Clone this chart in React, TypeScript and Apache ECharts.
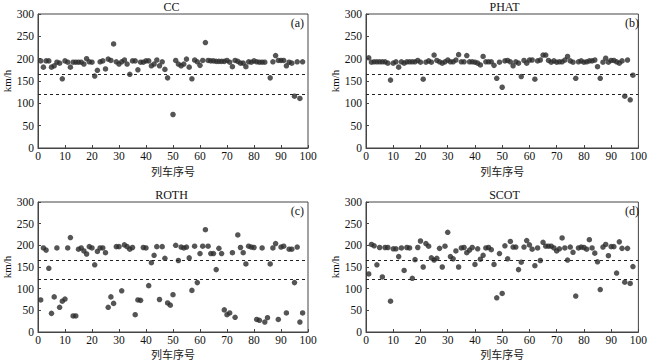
import React, { useEffect, useRef } from "react";
import * as echarts from "echarts";

const ccSpeed = [195,181,195,195,181,184,192,190,155,195,192,181,192,192,192,192,188,200,193,192,161,174,193,195,177,199,196,233,193,188,193,197,188,165,195,195,175,192,192,195,195,184,188,197,184,193,176,157,null,75,196,188,184,188,199,181,155,197,193,185,196,236,196,195,195,194,194,194,194,196,192,182,196,194,190,190,182,193,192,195,193,192,192,192,null,157,193,207,196,196,196,184,192,190,116,193,111,193];
const phatSpeed = [202,192,193,193,193,193,193,190,152,190,193,181,193,190,193,193,193,193,196,192,154,192,195,192,208,196,193,190,193,197,193,193,197,209,193,193,207,193,193,192,190,186,205,193,193,193,185,156,192,136,195,196,193,184,193,190,160,196,190,197,197,154,195,197,208,208,196,192,195,192,193,193,197,205,195,192,156,193,195,192,193,195,195,197,182,156,192,201,192,196,196,193,190,195,116,197,108,163];
const rothSpeed = [74,194,189,147,43,81,194,57,71,76,194,218,37,37,191,194,187,180,197,194,155,186,194,194,183,57,81,66,197,197,95,201,197,191,195,40,74,73,195,194,107,160,177,197,75,197,170,67,62,86,200,165,196,194,196,171,96,198,114,181,198,236,198,181,181,144,193,181,51,40,44,183,34,224,195,183,157,198,196,195,29,27,194,23,33,157,194,204,29,196,198,44,191,191,114,196,23,44];
const scotSpeed = [134,202,199,155,195,127,195,195,71,192,192,174,194,142,195,194,124,167,195,210,150,204,198,171,166,170,193,150,198,230,174,169,187,150,194,195,183,189,195,156,192,168,177,194,195,190,156,79,181,89,199,169,209,196,196,144,161,196,211,201,191,153,194,165,207,198,198,198,194,187,192,217,194,166,196,184,83,194,196,195,191,213,194,182,162,98,196,202,176,197,197,136,208,193,115,193,112,151];

const panelTitles = ["CC", "PHAT", "ROTH", "SCOT"];
const panelTags = ["(a)", "(b)", "(c)", "(d)"];
const thresholds = [165, 121];
const xTicks = { min: 0, max: 100, interval: 10 };
const yTicks = { min: 0, max: 300, interval: 50 };
const xName = "列车序号";
const yName = "km/h";

const allSeries = [ccSpeed, phatSpeed, rothSpeed, scotSpeed];

const grids = [
  { left: 35, top: 14, width: 273, height: 134 },
  { left: 366, top: 14, width: 277, height: 134 },
  { left: 35, top: 202, width: 273, height: 130 },
  { left: 366, top: 202, width: 277, height: 130 },
];
const xNameGaps = [17, 17, 16, 16];

const FONT = "'Liberation Serif', 'Times New Roman', serif";
const CJK = "'Noto Sans CJK SC', sans-serif";
const INK = "#444";

export default function App() {
  const ref = useRef<HTMLDivElement>(null);
  useEffect(() => {
    document.body.style.margin = "0";
    if (!ref.current) return;
    const chart = echarts.init(ref.current, undefined, { renderer: "svg" });
    const option: any = {
      animation: false,
      backgroundColor: "#fff",
      grid: grids.map((g) => ({ ...g, show: true, borderColor: INK, borderWidth: 1, backgroundColor: "transparent" })),
      xAxis: grids.map((_, i) => ({
        type: "value",
        gridIndex: i,
        min: xTicks.min,
        max: xTicks.max,
        interval: xTicks.interval,
        name: xName,
        nameLocation: "middle",
        nameGap: xNameGaps[i],
        nameTextStyle: { fontFamily: CJK, fontSize: 11, color: "#222", lineHeight: 11 },
        axisLine: { show: true, lineStyle: { color: INK } },
        axisTick: { show: true, inside: true, length: 3, lineStyle: { color: INK } },
        axisLabel: { fontFamily: FONT, fontSize: 11.5, color: "#111", margin: 2, lineHeight: 11 },
        splitLine: { show: false },
      })),
      yAxis: grids.map((_, i) => ({
        type: "value",
        gridIndex: i,
        min: yTicks.min,
        max: yTicks.max,
        interval: yTicks.interval,
        name: yName,
        nameLocation: "middle",
        nameGap: 26,
        nameTextStyle: { fontFamily: FONT, fontSize: 11, color: "#111" },
        axisLine: { show: true, lineStyle: { color: INK } },
        axisTick: { show: true, inside: true, length: 3, lineStyle: { color: INK } },
        axisLabel: { fontFamily: FONT, fontSize: 11.5, color: "#111", margin: 4 },
        splitLine: { show: false },
      })),
      series: allSeries.map((vals, i) => ({
        type: "scatter",
        xAxisIndex: i,
        yAxisIndex: i,
        symbolSize: 5.5,
        itemStyle: { color: "#2a2a2a" },
        data: vals
          .map((v, k) => (v == null ? null : [k + 1, v]))
          .filter((d) => d !== null),
        markLine: {
          silent: true,
          symbol: "none",
          label: { show: false },
          lineStyle: { color: "#222", type: [3, 3], width: 1 },
          data: thresholds.map((t) => ({ yAxis: t })),
        },
      })),
      graphic: [
        ...grids.map((g, i) => ({
          type: "text",
          x: g.left + g.width / 2,
          y: g.top - 13,
          style: { text: panelTitles[i], fontFamily: FONT, fontSize: 12, fill: "#111", textAlign: "center" },
        })),
        ...grids.map((g, i) => ({
          type: "text",
          x: g.left + g.width - 4,
          y: g.top + 3,
          style: { text: panelTags[i], fontFamily: FONT, fontSize: 12, fill: "#111", textAlign: "right" },
        })),
      ],
    };
    chart.setOption(option);
    return () => chart.dispose();
  }, []);
  return <div ref={ref} style={{ width: 650, height: 364 }} />;
}
